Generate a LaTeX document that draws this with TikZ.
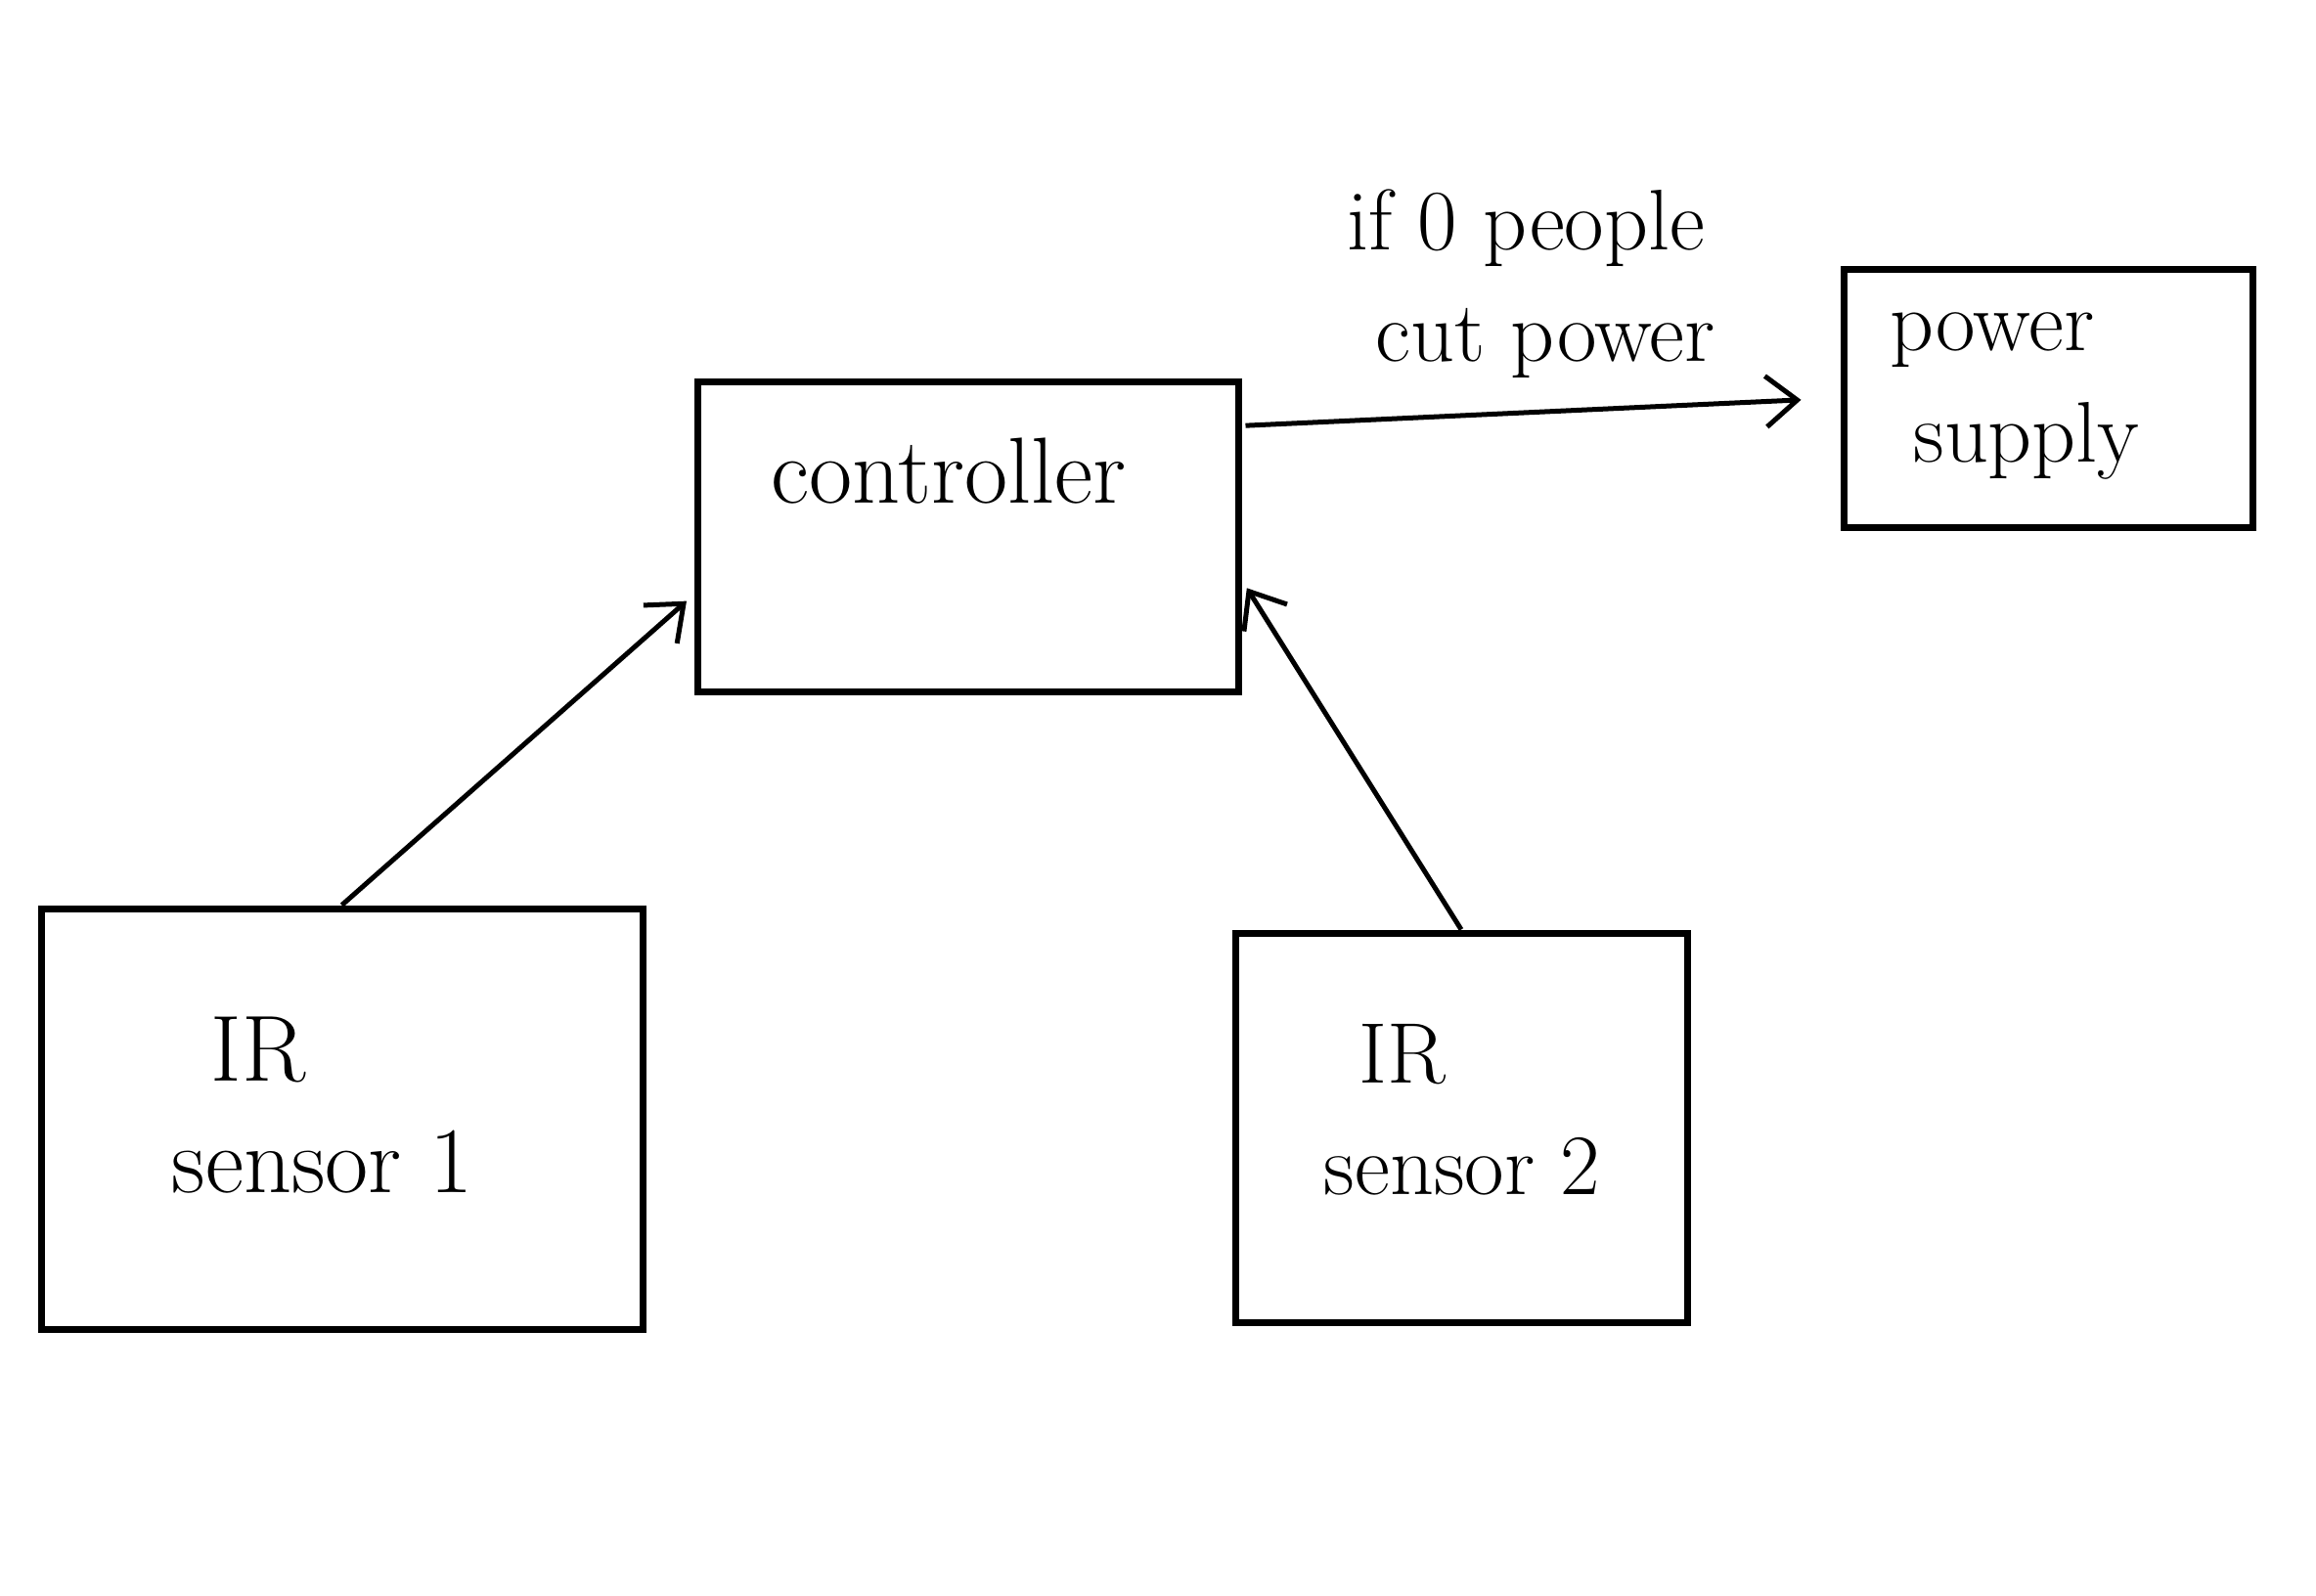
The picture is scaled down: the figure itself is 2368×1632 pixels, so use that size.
\documentclass[tikz,border=0pt]{standalone}
\usetikzlibrary{arrows.meta}
\begin{document}
\begin{tikzpicture}[x=0.5pt,y=-0.5pt,
  box/.style={draw, line width=3.5pt, inner sep=0pt},
  txt/.style={font=\fontsize{44}{57}\selectfont, align=center, inner sep=0pt},
  arr/.style={draw, line width=2.5pt, -{Straight Barb[length=16pt,width=26pt,line width=2.5pt]}}]
\useasboundingbox (0,0) rectangle (2368,1632);
% boxes
\node[box, minimum width=276.5pt, minimum height=158.5pt] (ctl) at (989.5,548.5) {};
\node[box, minimum width=209pt, minimum height=132pt] (ps) at (2094,407) {};
\node[box, minimum width=307.5pt, minimum height=215pt] (s1) at (349.5,1144) {};
\node[box, minimum width=231pt, minimum height=199pt] (s2) at (1494,1153) {};
% texts
\node[txt, font=\fontsize{48}{57}\selectfont] (ctltxt) at (970,482) {controller};
\node[txt, align=left] (pstxt) at (2060,405) {power\\\hspace*{12pt}supply};
\node[txt, align=left, font=\fontsize{48}{57}\selectfont] (s1txt) at (330,1130) {\hspace*{20pt}IR\\sensor 1};
\node[txt, align=left] (s2txt) at (1495,1135) {\hspace*{18pt}IR\\sensor 2};
\node[txt] (lbl) at (1560,290) {if 0 people\\\hspace*{20pt}cut power};
% connectors
\draw[arr, shorten >=5pt] (s1.north) -- (ctl.192);
\draw[arr, shorten >=5pt] (s2.north) -- (ctl.-9);
\draw[arr, shorten <=2pt, shorten >=20pt] (ctl.22) -- (ps.west);
\end{tikzpicture}
\end{document}
